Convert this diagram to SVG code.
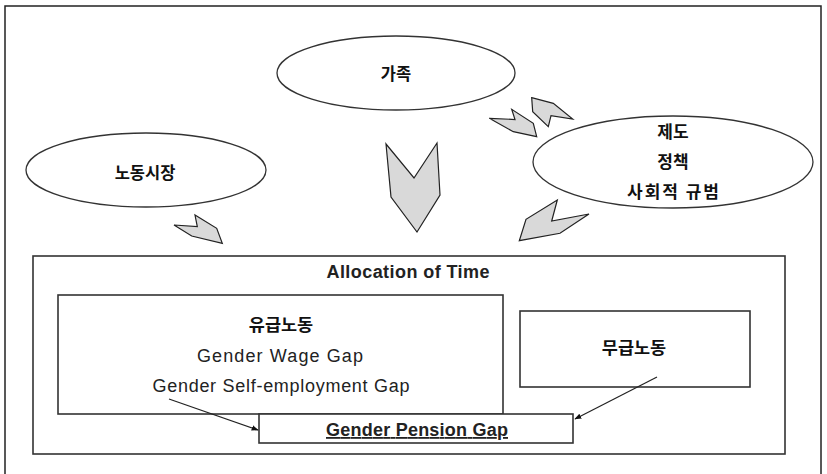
<svg xmlns="http://www.w3.org/2000/svg" width="827" height="474" viewBox="0 0 827 474">
<style>
.frame{fill:none;stroke:#222;stroke-width:1.5}
.ell{fill:#fff;stroke:#333;stroke-width:1.3}
.box{fill:#fff;stroke:#333;stroke-width:1.6}
.chev{fill:#d9d9d9;stroke:#222;stroke-width:1.2;stroke-linejoin:miter}
.ko{font-family:"Noto Sans CJK KR","Noto Sans",sans-serif;font-weight:bold;fill:#111;text-anchor:middle}
.en{font-family:"Liberation Sans",Arial,sans-serif;fill:#222;text-anchor:middle}
.conn{stroke:#222;stroke-width:1.2;fill:none;marker-end:url(#ah)}
</style>
<defs>
<marker id="ah" viewBox="0 0 10 10" refX="9" refY="5" markerWidth="7" markerHeight="7" orient="auto" markerUnits="userSpaceOnUse">
<path d="M0,1 L10,5 L0,9 z" fill="#111"/>
</marker>
</defs>
<rect width="827" height="474" fill="#fff"/>
<rect class="frame" x="5" y="6" width="816" height="480"/>

<g id="family">
<ellipse class="ell" cx="396" cy="73" rx="119" ry="37"/>
<text class="ko" x="396" y="80" font-size="16.5">가족</text>
</g>
<g id="labor-market">
<ellipse class="ell" cx="146" cy="170" rx="120" ry="37"/>
<text class="ko" x="145" y="179" font-size="16.5">노동시장</text>
</g>
<g id="institutions">
<ellipse class="ell" cx="673" cy="162" rx="140" ry="46"/>
<text class="ko" x="673" y="138" font-size="17">제도</text>
<text class="ko" x="673" y="168" font-size="17">정책</text>
<text class="ko" x="673" y="198" font-size="17" textLength="92">사회적 규범</text>
</g>

<g id="influences">
<polygon class="chev" points="386,144 414,178 437,143 440,195 417,232 391,197"/>
<polygon class="chev" points="511.7,109.3 515,119.5 489.3,118.3 513.3,131.7 536.7,136.7 533.3,123.3"/>
<polygon class="chev" points="531.7,97.7 553.3,103.3 572.7,119 551,115.7 548.3,126.7 532.7,111.7"/>
<polygon class="chev" points="174,225 197.3,226.7 195,215 216.7,228.3 222.3,243.3 191.7,236"/>
<polygon class="chev" points="557.3,200 551.7,221 589,214 560,233.3 519.3,240.7 526,219.3"/>
</g>

<g id="allocation-of-time">
<rect class="box" x="33" y="256" width="752" height="198"/>
<text class="en" x="408" y="278" font-size="18" font-weight="bold" textLength="163" lengthAdjust="spacing">Allocation of Time</text>
</g>
<g id="paid-work">
<rect class="box" x="58" y="295" width="445" height="119"/>
<text class="ko" x="281" y="331" font-size="17.5">유급노동</text>
<text class="en" x="280" y="362" font-size="18" textLength="166" lengthAdjust="spacing">Gender Wage Gap</text>
<text class="en" x="281" y="392" font-size="18" textLength="257" lengthAdjust="spacing">Gender Self-employment Gap</text>
</g>
<g id="unpaid-work">
<rect class="box" x="520" y="311" width="230" height="76"/>
<text class="ko" x="634" y="354" font-size="17.5">무급노동</text>
</g>
<g id="pension-gap">
<rect class="box" x="259" y="414" width="314" height="29"/>
<text class="en" x="417" y="436" font-size="18" font-weight="bold" text-decoration="underline" textLength="182" lengthAdjust="spacing">Gender Pension Gap</text>
</g>

<g id="connectors">
<line class="conn" x1="169" y1="399" x2="258" y2="430"/>
<line class="conn" x1="657" y1="377" x2="575" y2="419"/>
</g>
</svg>
